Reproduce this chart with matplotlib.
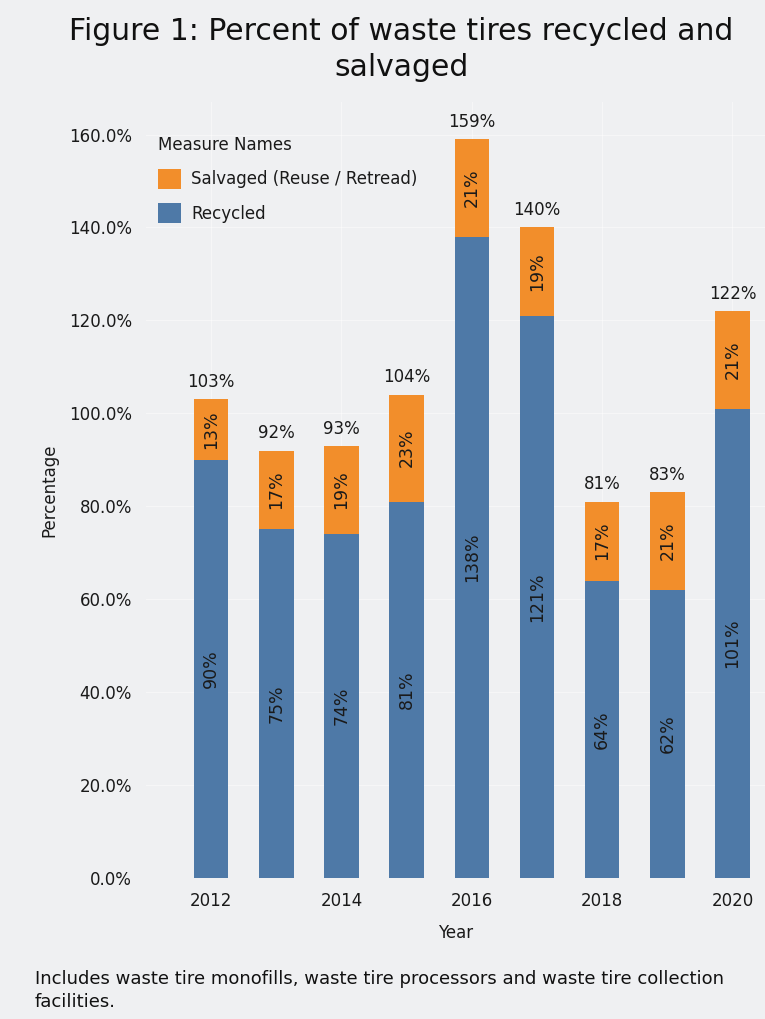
import matplotlib.pyplot as plt
import numpy as np

years = [2012, 2013, 2014, 2015, 2016, 2017, 2018, 2019, 2020]
recycled = [90, 75, 74, 81, 138, 121, 64, 62, 101]
salvaged = [13, 17, 19, 23, 21, 19, 17, 21, 21]
totals = [103, 92, 93, 104, 159, 140, 81, 83, 122]

bg = '#eff0f2'
blue = '#4e79a7'
orange = '#f28e2b'
ink = '#1a1a1a'
plt.rcParams['font.family'] = 'DejaVu Sans'

fig = plt.figure(figsize=(7.65, 10.19), dpi=100, facecolor=bg)
ax = fig.add_axes([146/765, 141/1019, 1 - 146/765, 776/1019], facecolor=bg)

x = np.array(years)
ax.bar(x, recycled, width=0.53, color=blue, label='Recycled', zorder=3)
ax.bar(x, salvaged, width=0.53, bottom=recycled, color=orange,
       label='Salvaged (Reuse / Retread)', zorder=3)

for xi, r, s, t in zip(x, recycled, salvaged, totals):
    ax.text(xi, r / 2, f'{r}%', rotation=90, ha='center', va='center', fontsize=12.5, color=ink, zorder=4)
    ax.text(xi, r + s / 2, f'{s}%', rotation=90, ha='center', va='center', fontsize=12.5, color=ink, zorder=4)
    ax.annotate(f'{t}%', (xi, t), xytext=(0, 6), textcoords='offset points',
                ha='center', va='bottom', fontsize=12, color=ink)

ax.set_xlim(2011.0, 2020.5)
ax.set_ylim(0, 167)
ax.set_yticks(np.arange(0, 161, 20))
ax.set_yticklabels([f'{v:.1f}%' for v in np.arange(0, 161, 20)])
ax.set_xticks([2012, 2014, 2016, 2018, 2020])
ax.tick_params(length=0, labelsize=12, colors=ink)
ax.tick_params(axis='y', pad=10)
ax.tick_params(axis='x', pad=10)
ax.grid(True, color='white', lw=0.8, alpha=0.45, zorder=0)
for sp in ax.spines.values():
    sp.set_visible(False)

ax.set_xlabel('Year', fontsize=12, color=ink, labelpad=10)
ax.set_ylabel('Percentage', fontsize=12, color=ink, labelpad=8)

h, l = ax.get_legend_handles_labels()
leg = ax.legend(h[::-1], l[::-1], title='Measure Names', loc='upper left',
                bbox_to_anchor=(-0.005, 0.975), frameon=False, fontsize=12,
                title_fontsize=12, handlelength=1.4, handleheight=1.5,
                handletextpad=0.6, alignment='left', labelspacing=0.85)
leg.get_title().set_color(ink)
for t in leg.get_texts():
    t.set_color(ink)

fig.text(0.525, 0.983, 'Figure 1: Percent of waste tires recycled and\nsalvaged',
         ha='center', va='top', fontsize=21.5, color='#111111', linespacing=1.3)
fig.text(35/765, 0.0485, 'Includes waste tire monofills, waste tire processors and waste tire collection\nfacilities.',
         ha='left', va='top', fontsize=13, color='#111111', linespacing=1.4)

fig.savefig('out.png', dpi=100, facecolor=bg)
